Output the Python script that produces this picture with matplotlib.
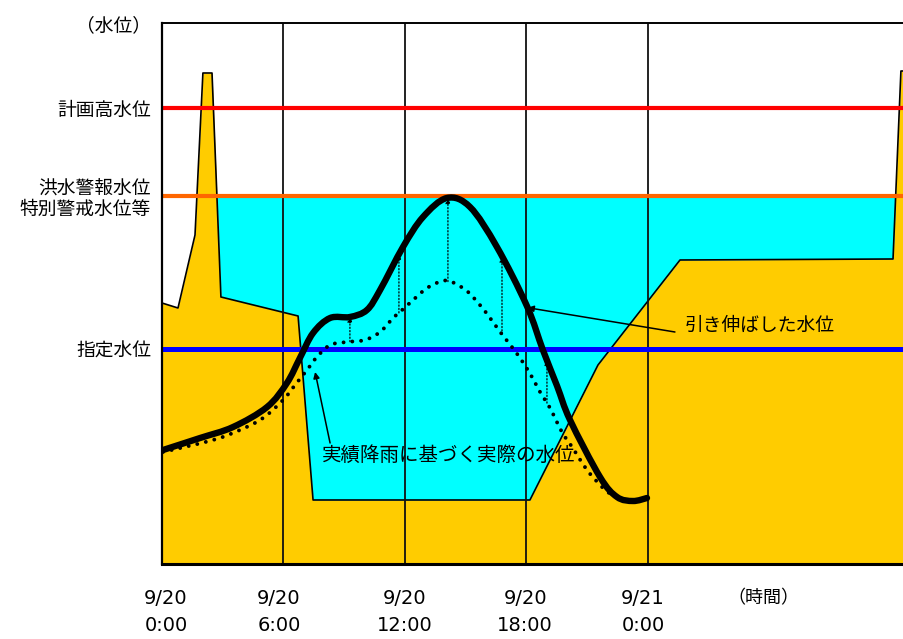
import numpy as np
import matplotlib
matplotlib.use("Agg")
import matplotlib.pyplot as plt
from matplotlib.path import Path
from matplotlib.patches import PathPatch

plt.rcParams['font.family'] = ['Noto Sans CJK JP', 'DejaVu Sans']

# ---- data (x: hours since 9/20 0:00, y: water level, arbitrary units) ----
boundary_hours = [0.0, 0.79, 1.63, 2.02, 2.47, 2.91, 6.72, 7.46, 18.17, 21.53, 25.58, 36.10, 36.49, 36.64]
boundary_level = [26.1, 25.6, 32.9, 49.1, 49.1, 26.7, 24.8, 6.4, 6.4, 19.9, 30.4, 30.5, 49.3, 49.3]

stretched_hours = [0.05, 1.88, 3.51, 5.19, 6.17, 6.81, 7.46, 8.30, 9.28, 10.12, 10.77, 11.90,
                   12.89, 14.07, 15.21, 16.54, 18.02, 18.81, 19.51, 20.15,
                   21.63, 22.47, 23.26, 23.95]
stretched_level = [11.4, 12.6, 13.7, 15.7, 18.1, 20.6, 23.1, 24.6, 24.7, 25.4, 27.4, 31.7,
                   34.7, 36.6, 35.7, 31.7, 25.8, 21.4, 17.8, 14.4,
                   8.7, 6.7, 6.3, 6.6]

actual_hours = [0.05, 2.52, 3.85, 4.99, 5.98, 6.57, 7.16, 7.65, 8.30, 9.14, 10.02, 10.77, 11.41,
                11.75, 12.40, 13.09, 13.83, 14.32, 15.06, 15.70, 16.20, 16.74, 17.28, 17.78,
                18.27, 18.67, 19.16, 19.75, 20.25, 20.99, 21.78, 22.22]
actual_level = [11.2, 12.4, 13.4, 14.6, 16.4, 17.9, 19.4, 20.7, 21.9, 22.2, 22.4, 23.2, 24.6,
                25.2, 26.4, 27.6, 28.3, 28.2, 27.3, 25.9, 24.6, 23.1, 21.7, 20.3,
                18.7, 17.2, 15.6, 13.2, 11.7, 9.4, 7.6, 6.9]

connector_hours = [9.28, 11.70, 14.12, 16.79, 19.01]

level_values = [54.1, 45.6, 36.8, 21.5]
level_labels = ['（水位）', '計画高水位', '洪水警報水位\n特別警戒水位等', '指定水位']
planned_high, warning, designated = 45.6, 36.8, 21.5

tick_hours = [0.2, 5.78, 12.0, 17.93, 23.75]
tick_labels = ['9/20\n0:00', '9/20\n6:00', '9/20\n12:00', '9/20\n18:00', '9/21\n0:00']
grid_hours = [6, 12, 18, 24]

YELLOW = '#FFCC00'
CYAN = '#00FFFF'


def smooth_path(xs, ys):
    """Smoothed line through the points (Catmull-Rom drawn as cubic Bezier segments)."""
    p = np.column_stack([xs, ys]).astype(float)
    ext = np.vstack([p[0], p, p[-1]])
    verts = [p[0]]
    codes = [Path.MOVETO]
    for i in range(1, len(ext) - 2):
        p0, p1, p2, p3 = ext[i - 1], ext[i], ext[i + 1], ext[i + 2]
        verts += [p1 + (p2 - p0) / 6, p2 - (p3 - p1) / 6, p2]
        codes += [Path.CURVE4] * 3
    return Path(verts, codes)


# ---- figure ----
fig = plt.figure(figsize=(9.04, 6.39), dpi=100)
ax = fig.add_axes([162/904, 75/639, 742/904, 541/639])
ax.set_xlim(0, 742/20.25)
ax.set_ylim(0, 54.1)

bh = np.array(boundary_hours)
bl = np.array(boundary_level)

ax.fill_between(bh, 0, bl, color=YELLOW, lw=0, zorder=1)

cross = []
for i in range(len(bh) - 1):
    a, b = bl[i] - warning, bl[i + 1] - warning
    if a * b < 0:
        t = a / (a - b)
        cross.append(bh[i] + t * (bh[i + 1] - bh[i]))
c1, c2 = cross[1], cross[2]
inside = (bh > c1) & (bh < c2)
cx = np.concatenate([[c1], bh[inside], [c2]])
cy = np.concatenate([[warning], bl[inside], [warning]])
ax.fill_between(cx, cy, warning, color=CYAN, lw=0, zorder=1)

ax.plot(bh, bl, color='black', lw=1.2, zorder=2)

for h in grid_hours:
    ax.axvline(h, color='#111111', lw=1.3, zorder=2.2)

ax.axhline(planned_high, color='#FF0000', lw=3, zorder=3)
ax.axhline(warning, color='#FF6600', lw=3, zorder=3)
ax.axhline(designated, color='#0000FF', lw=3.6, zorder=3)

# curves
dotted = PathPatch(smooth_path(actual_hours, actual_level), fill=False, edgecolor='black',
                   lw=2.8, linestyle=(0, (0.01, 2.25)), capstyle='round', zorder=4)
ax.add_patch(dotted)
thick = PathPatch(smooth_path(stretched_hours, stretched_level), fill=False, edgecolor='black',
                  lw=4.6, capstyle='round', joinstyle='round', zorder=5)
ax.add_patch(thick)

for h in connector_hours:
    y0 = np.interp(h, actual_hours, actual_level)
    y1 = np.interp(h, stretched_hours, stretched_level)
    ax.annotate('', xy=(h, y1), xytext=(h, y0),
                arrowprops=dict(arrowstyle='-|>', color='black', lw=0.9, linestyle=':',
                                mutation_scale=7, shrinkA=0, shrinkB=0), zorder=4)

ax.annotate('', xy=(18.05, np.interp(18.05, stretched_hours, stretched_level)),
            xytext=(25.33, 23.2),
            arrowprops=dict(arrowstyle='-|>', color='black', lw=1.1,
                            mutation_scale=9, shrinkA=0, shrinkB=0), zorder=6)
ax.text(25.8, 23.9, '引き伸ばした水位', fontsize=13.5, ha='left', va='center', zorder=6)

ax.annotate('', xy=(7.56, 19.2), xytext=(8.30, 12.1),
            arrowprops=dict(arrowstyle='-|>', color='black', lw=1.1,
                            mutation_scale=9, shrinkA=0, shrinkB=0), zorder=6)
ax.text(7.9, 10.9, '実績降雨に基づく実際の水位', fontsize=14, ha='left', va='center', zorder=6)

ax.spines['right'].set_visible(False)
ax.spines['left'].set_linewidth(1.6)
ax.spines['top'].set_linewidth(1.4)
ax.spines['bottom'].set_linewidth(2.2)
for s in ax.spines.values():
    s.set_zorder(6)

ax.set_yticks(level_values, level_labels, fontsize=13.5)
for lbl in ax.get_yticklabels():
    lbl.set_multialignment('right')
    lbl.set_linespacing(1.0)
ax.tick_params(axis='y', length=0, pad=8)

ax.set_xticks(tick_hours, tick_labels)
for lbl in ax.get_xticklabels():
    lbl.set_fontfamily('DejaVu Sans')
    lbl.set_fontsize(14)
    lbl.set_linespacing(1.55)
ax.tick_params(axis='x', length=0, pad=18)

ax.text(29.7, -0.064, '（時間）', transform=ax.get_xaxis_transform(),
        fontsize=13, ha='center', va='center')

fig.savefig('out.png', dpi=100, facecolor='white')
